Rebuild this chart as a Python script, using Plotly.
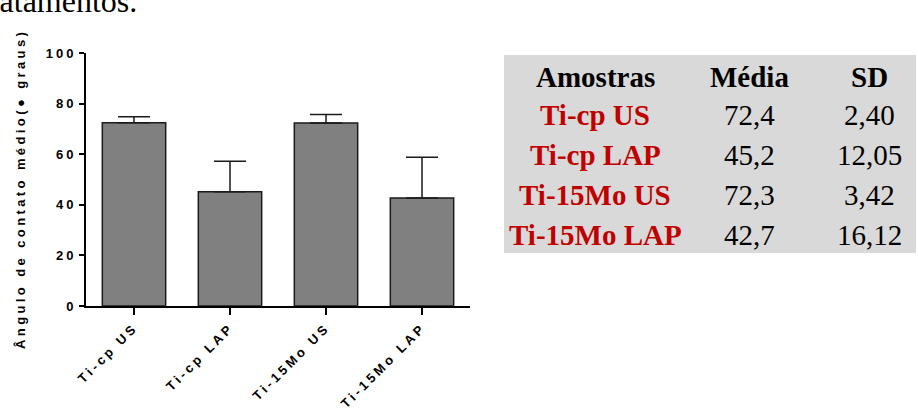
import plotly.graph_objects as go

# Sample groups and measured contact angles (degrees)
amostras = ["Ti-cp US", "Ti-cp LAP", "Ti-15Mo US", "Ti-15Mo LAP"]
media = [72.4, 45.2, 72.3, 42.7]
sd = [2.40, 12.05, 3.42, 16.12]
y_ticks = [0, 20, 40, 60, 80, 100]
y_title = "Ângulo de contato médio(● graus)"
table_header = ["Amostras", "Média", "SD"]
top_text = "tratamentos."

FIG_W, FIG_H = 918, 409
L, R, T, B = 86, 470, 53, 306  # plot area in page pixels
SANS = "Liberation Sans"
SERIF = "Liberation Serif"
EDGE = "#1a1a1a"


def px(x):
    return (x - L) / (R - L)


def py(y):
    return (B - y) / (B - T)


def spaced(s, sp, bold=True):
    inner = f"<b>{s}</b>" if bold else s
    return f"<span style='letter-spacing:{sp}px'>{inner}</span>"


def fmt(v, nd):
    return f"{v:.{nd}f}".replace(".", ",")


x_idx = list(range(len(amostras)))

fig = go.Figure()
fig.add_trace(go.Bar(
    x=x_idx,
    y=media,
    width=0.66,
    marker=dict(color="#808080", line=dict(color=EDGE, width=1.5)),
    error_y=dict(type="data", array=sd, arrayminus=[0] * len(sd), symmetric=False,
                 color=EDGE, thickness=1.5, width=16),
    showlegend=False,
))

fig.update_layout(
    width=FIG_W, height=FIG_H,
    margin=dict(l=L, r=FIG_W - R, t=T, b=FIG_H - B, pad=0, autoexpand=False),
    plot_bgcolor="white", paper_bgcolor="white",
    font=dict(family=SANS, color="black"),
)

fig.update_xaxes(
    range=[-0.5, 3.5],
    tickvals=x_idx,
    ticktext=[spaced(a, 3.2) for a in amostras],
    tickangle=-45,
    tickfont=dict(family=SANS, size=13, color="black"),
    ticks="outside", ticklen=7, tickwidth=2, tickcolor="black",
    showline=True, linewidth=2, linecolor="black",
    showgrid=False, zeroline=False, automargin=False,
)
fig.update_yaxes(
    range=[0, 100],
    tickvals=y_ticks,
    ticktext=[spaced(str(v), 3) for v in y_ticks],
    tickfont=dict(family=SANS, size=13, color="black"),
    ticks="outside", ticklen=5, tickwidth=2, tickcolor="black",
    showline=True, linewidth=2, linecolor="black",
    showgrid=False, zeroline=False, automargin=False,
)

annotations = []

# Rotated y-axis title
annotations.append(dict(
    text=spaced(y_title, 3.4), textangle=-90,
    x=px(20), y=py(189), xref="paper", yref="paper",
    xanchor="center", yanchor="middle", showarrow=False,
    font=dict(family=SANS, size=13, color="black"),
))

# Fragment of the running text above the chart
annotations.append(dict(
    text=top_text,
    x=px(139), y=py(1), xref="paper", yref="paper",
    xanchor="right", yanchor="middle", showarrow=False,
    font=dict(family=SERIF, size=32, color="black"),
))

# Summary table
col_x = [595, 749, 869]
row_y = [77, 115, 155, 195, 235]
for cx, h in zip(col_x, table_header):
    annotations.append(dict(
        text=f"<b>{h}</b>", x=px(cx), y=py(row_y[0]), xref="paper", yref="paper",
        xanchor="center", yanchor="middle", showarrow=False,
        font=dict(family=SERIF, size=29, color="black"),
    ))
for i, (a, m, s) in enumerate(zip(amostras, media, sd)):
    ry = row_y[i + 1]
    annotations.append(dict(
        text=f"<b>{a}</b>", x=px(col_x[0]), y=py(ry), xref="paper", yref="paper",
        xanchor="center", yanchor="middle", showarrow=False,
        font=dict(family=SERIF, size=29, color="#c00000"),
    ))
    annotations.append(dict(
        text=fmt(m, 1), x=px(col_x[1]), y=py(ry), xref="paper", yref="paper",
        xanchor="center", yanchor="middle", showarrow=False,
        font=dict(family=SERIF, size=29, color="black"),
    ))
    annotations.append(dict(
        text=fmt(s, 2), x=px(col_x[2]), y=py(ry), xref="paper", yref="paper",
        xanchor="center", yanchor="middle", showarrow=False,
        font=dict(family=SERIF, size=29, color="black"),
    ))

fig.update_layout(annotations=annotations)

fig.add_shape(
    type="rect", xref="paper", yref="paper",
    x0=px(504), x1=px(916), y0=py(253), y1=py(55),
    fillcolor="#d9d9d9", line=dict(width=0), layer="below",
)

fig.write_html("out.html")
